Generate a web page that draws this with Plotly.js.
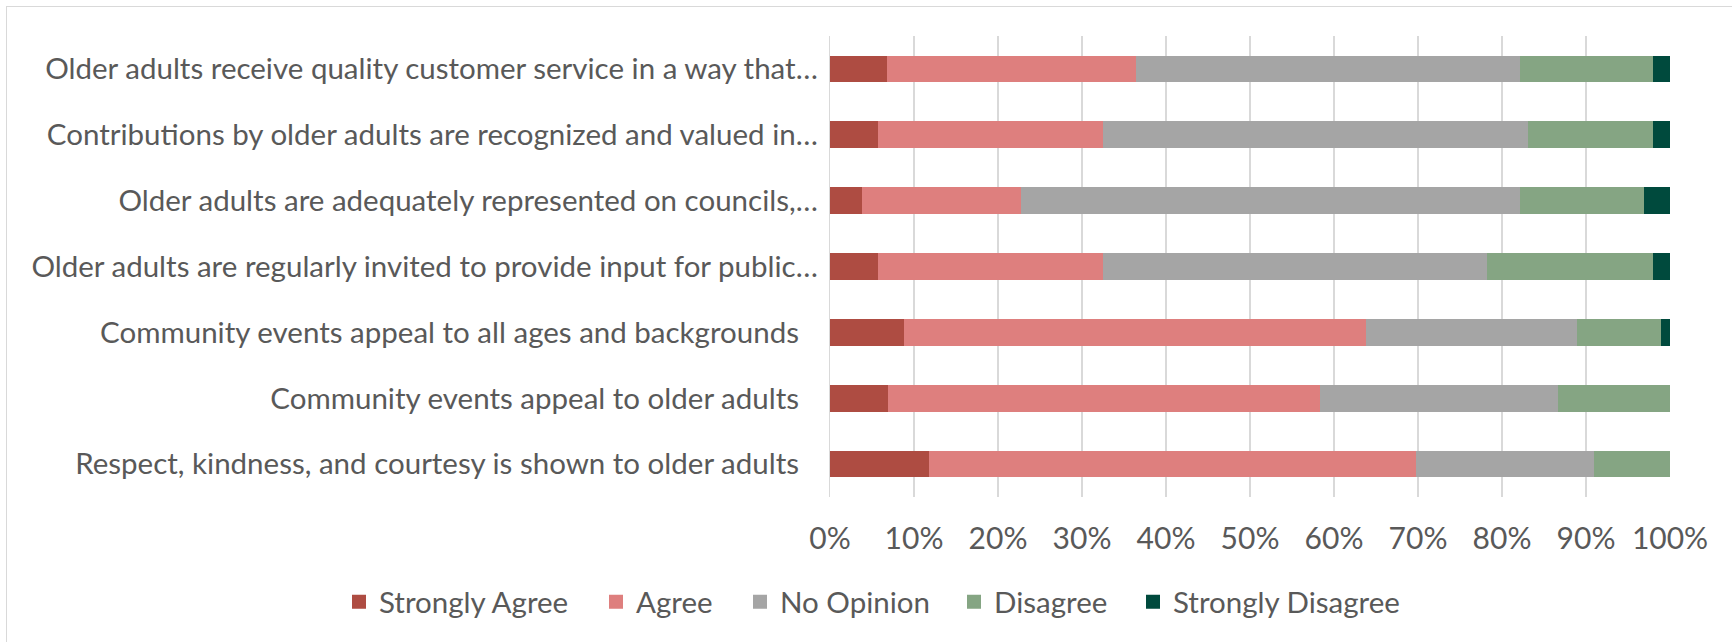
<!DOCTYPE html>
<html>
<head>
<meta charset="utf-8">
<script src="https://cdn.plot.ly/plotly-3.0.1.min.js"></script>
<style>
  html, body { margin: 0; padding: 0; background: #ffffff; }
  #wrap { position: relative; width: 1732px; height: 642px; overflow: hidden; }
  #chart { width: 1732px; height: 642px; }
  #frame { position: absolute; left: 6px; top: 6px; width: 1740px; height: 650px;
           border-left: 1px solid #D9D9D9; border-top: 1px solid #D9D9D9; pointer-events: none; }
</style>
</head>
<body>
<div id="wrap">
  <div id="chart"></div>
  <div id="frame"></div>
</div>
<script>
// Categories, top to bottom as shown
const categories = [
  "Older adults receive quality customer service in a way that\u2026",
  "Contributions by older adults are recognized and valued in\u2026",
  "Older adults are adequately represented on councils,\u2026",
  "Older adults are regularly invited to provide input for public\u2026",
  "Community events appeal to all ages and backgrounds\u00A0\u00A0\u2009",
  "Community events appeal to older adults\u00A0\u00A0\u2009",
  "Respect, kindness, and courtesy is shown to older adults\u00A0\u00A0\u2009"
];

// Percent of responses per category (same order as categories)
const stronglyAgree    = [6.9, 5.8, 3.9, 5.8, 8.9, 7.0, 11.9];
const agree            = [29.7, 26.8, 18.9, 26.8, 55.0, 51.5, 58.0];
const noOpinion        = [45.7, 50.6, 59.5, 45.7, 25.2, 28.3, 21.2];
const disagree         = [15.8, 14.9, 14.7, 19.8, 9.9, 13.2, 8.9];
const stronglyDisagree = [1.9, 1.9, 3.0, 1.9, 1.0, 0.0, 0.0];

const seriesNames = ["Strongly Agree", "Agree", "No Opinion", "Disagree", "Strongly Disagree"];
const seriesValues = [stronglyAgree, agree, noOpinion, disagree, stronglyDisagree];
const seriesColors = ["#AE4C42", "#DE7F7E", "#A5A5A5", "#85A583", "#004A3D"];

const tickVals = [0, 10, 20, 30, 40, 50, 60, 70, 80, 90, 100];

const FONT = "Lato, 'Open Sans', sans-serif";
const TXT = "#595959";

// plot area in pixels: x 830..1670, y 36..497
const L = 830, R = 1670, T = 36, B = 497;
const px2x = p => (p - L) / (R - L);
const px2y = p => (B - p) / (B - T);
const legendItemX = [339, 596, 740, 954, 1133];

const legendKeys = ["legend", "legend2", "legend3", "legend4", "legend5"];

const traces = seriesNames.map((name, i) => ({
  type: "bar",
  orientation: "h",
  name: name,
  x: seriesValues[i],
  y: categories,
  marker: {
    color: seriesColors[i],
    line: { color: seriesColors[i], width: seriesValues[i].map(v => (v > 0 ? 2 : 0)) }
  },
  legend: legendKeys[i],
  hoverinfo: "name+x"
}));

const layout = {
  width: 1732,
  height: 642,
  margin: { l: L, r: 1732 - R, t: T, b: 642 - B, pad: 0 },
  paper_bgcolor: "#ffffff",
  plot_bgcolor: "#ffffff",
  barmode: "stack",
  bargap: 0.625,
  font: { family: FONT, size: 29.5, color: TXT },
  xaxis: {
    range: [0, 100],
    tickvals: tickVals,
    ticktext: tickVals.map(v => v + "%"),
    showgrid: true,
    gridcolor: "#D9D9D9",
    gridwidth: 1.3,
    zeroline: false,
    showline: false,
    ticks: "",
    ticklabelstandoff: 21,
    tickfont: { family: FONT, size: 30, color: TXT },
    fixedrange: true
  },
  yaxis: {
    type: "category",
    autorange: "reversed",
    showgrid: false,
    zeroline: false,
    showline: true,
    linecolor: "#D9D9D9",
    linewidth: 1.3,
    ticks: "",
    ticklabelstandoff: 5,
    tickfont: { family: FONT, size: 29.5, color: TXT },
    fixedrange: true
  },
  showlegend: true
};

legendKeys.forEach((k, i) => {
  layout[k] = {
    orientation: "h",
    x: px2x(legendItemX[i]),
    xanchor: "left",
    y: px2y(602),
    yanchor: "middle",
    bgcolor: "rgba(0,0,0,0)",
    borderwidth: 0,
    font: { family: FONT, size: 29.5, color: TXT }
  };
});

Plotly.newPlot("chart", traces, layout, { displayModeBar: false, staticPlot: true });
</script>
</body>
</html>
